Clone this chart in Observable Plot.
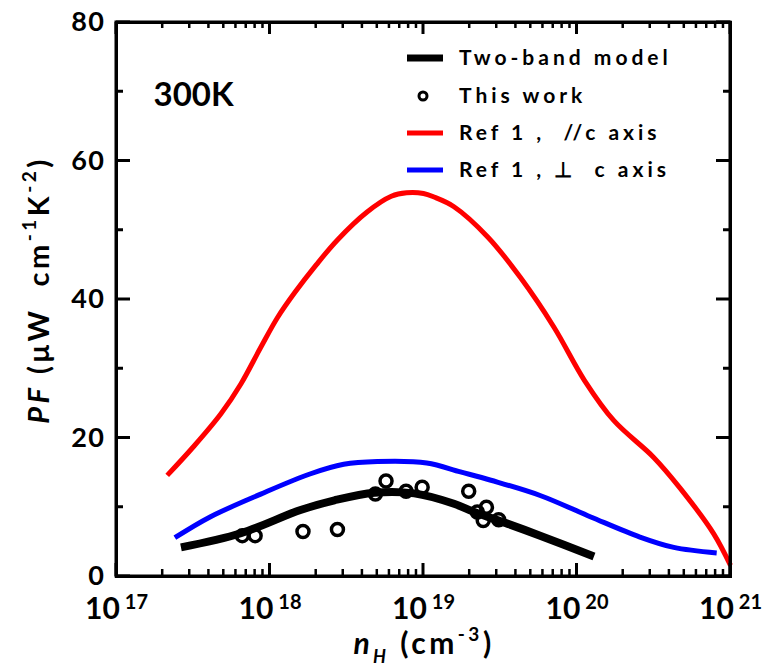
<!DOCTYPE html>
<html>
<head>
<meta charset="utf-8">
<script src="https://cdn.jsdelivr.net/npm/d3@7"></script>
<script src="https://cdn.jsdelivr.net/npm/@observablehq/plot@0.6"></script>
<style>
  html, body { margin: 0; padding: 0; background: white; }
</style>
</head>
<body>
<div id="chart"></div>
<script>
// Ref 1, //c axis (red)
const redN  = [2.14e17, 3.16e17, 4.79e17, 6.46e17, 8.71e17, 1.12e18, 1.45e18, 2.0e18, 2.75e18, 4.27e18, 6.17e18, 7.76e18, 1.0e19, 1.17e19, 1.58e19, 2.63e19, 4.27e19, 7.08e19, 1.12e20, 1.74e20, 3.16e20, 4.68e20, 7.76e20, 1.0e21];
const redPF = [14.6, 18.7, 23.5, 27.8, 33.1, 37.4, 41.0, 45.0, 48.6, 52.6, 54.9, 55.4, 55.3, 54.8, 53.4, 49.0, 43.2, 36.0, 28.3, 22.5, 17.2, 12.8, 6.2, 1.6];
// Ref 1, ⊥ c axis (blue)
const blueN  = [2.4e17, 4.07e17, 8.71e17, 1.82e18, 3.02e18, 5.01e18, 1.05e19, 1.74e19, 2.75e19, 5.75e19, 1.23e20, 2.57e20, 4.27e20, 8.13e20];
const bluePF = [5.6, 8.6, 11.9, 14.8, 16.2, 16.6, 16.4, 15.1, 13.9, 11.7, 8.6, 5.7, 4.2, 3.4];
// Two-band model (black)
const modelN  = [2.63e17, 6.46e17, 1.58e18, 2.63e18, 4.79e18, 8.71e18, 1.58e19, 2.14e19, 3.55e19, 5.75e19, 1.29e20];
const modelPF = [4.2, 6.25, 9.6, 11.0, 12.1, 12.0, 10.5, 9.3, 7.6, 5.9, 2.9];
// This work (open circles)
const workN  = [6.6e17, 8.0e17, 1.64e18, 2.75e18, 4.86e18, 5.7e18, 7.7e18, 9.8e18, 1.97e19, 2.24e19, 2.57e19, 2.45e19, 3.09e19];
const workPF = [5.9, 5.9, 6.5, 6.8, 11.9, 13.8, 12.3, 12.9, 12.3, 9.3, 10.0, 8.1, 8.2];

const xMajor = [1e17, 1e18, 1e19, 1e20, 1e21];
const yMajor = [0, 20, 40, 60, 80];
const yMinor = [10, 30, 50, 70];
const legendLabels = ["Two-band model", "This work", "Ref 1 ,  //c axis", "Ref 1 , \u22A5  c axis"];
const legendColors = ["black", "black", "red", "blue"];
const tempLabel = ["300K"];

const toRows = (ns, vs) => ns.map((n, i) => ({n, pf: vs[i]}));
const red = toRows(redN, redPF);
const blue = toRows(blueN, bluePF);
const model = toRows(modelN, modelPF);
const work = toRows(workN, workPF);

const xMinor = [];
for (let k = 0; k < xMajor.length - 1; k++) for (let m = 2; m <= 9; m++) xMinor.push(m * xMajor[k]);

const FONT = "Lato, 'Open Sans', sans-serif";
const W = 764, H = 668, ML = 116, MR = 34, MT = 22, MB = 92;

const svg = Plot.plot({
  width: W,
  height: H,
  marginLeft: ML,
  marginRight: MR,
  marginTop: MT,
  marginBottom: MB,
  style: {fontFamily: FONT, fontWeight: "bold", background: "white"},
  x: {type: "log", domain: [1e17, 1e21]},
  y: {domain: [0, 80]},
  marks: [
    Plot.line(red, {x: "n", y: "pf", stroke: "#ff0000", strokeWidth: 5, curve: "catmull-rom", strokeLinecap: "butt"}),
    Plot.line(blue, {x: "n", y: "pf", stroke: "#0000ff", strokeWidth: 5, curve: "catmull-rom", strokeLinecap: "butt"}),
    Plot.line(model, {x: "n", y: "pf", stroke: "black", strokeWidth: 8, curve: "catmull-rom", strokeLinecap: "butt"}),
    Plot.dot(work, {x: "n", y: "pf", r: 6, stroke: "black", strokeWidth: 3.5, fill: "none"}),
    Plot.text(tempLabel, {text: d => d, frameAnchor: "top-left", textAnchor: "start", lineAnchor: "top", dx: 37, dy: 60, fontSize: 33, fontWeight: "bold", fill: "black"}),
    Plot.axisX(xMajor, {anchor: "bottom", tickSize: 0, tickPadding: 21, fontSize: 30, tickFormat: d => String(Math.round(Math.log10(d))), label: null}),
    Plot.axisY(yMajor, {anchor: "left", tickSize: 0, tickPadding: 11, fontSize: 27, label: null}),
    Plot.frame({strokeWidth: 3, stroke: "black"})
  ]
});

const s = d3.select(svg);

// scales from the plot (fallback to equivalent d3 scales if unavailable)
let fx, fy;
try {
  const xs = svg.scale("x"), ys = svg.scale("y");
  fx = v => xs.apply(v); fy = v => ys.apply(v);
  if (!isFinite(fx(1e18)) || !isFinite(fy(40))) throw 0;
} catch (e) {
  const dx = d3.scaleLog().domain([1e17, 1e21]).range([ML, W - MR]);
  const dy = d3.scaleLinear().domain([0, 80]).range([H - MB, MT]);
  fx = dx; fy = dy;
}
const xL = fx(1e17), xR = fx(1e21), yB = fy(0), yT = fy(80);

// frame + inward ticks, stroke set on every element
const tg = s.append("g");
const seg = (x1, y1, x2, y2, w) => tg.append("path")
  .attr("d", `M${x1},${y1}L${x2},${y2}`)
  .attr("stroke", "black").attr("stroke-width", w).attr("fill", "none");
tg.append("rect").attr("x", xL).attr("y", yT).attr("width", xR - xL).attr("height", yB - yT)
  .attr("fill", "none").attr("stroke", "black").attr("stroke-width", 3);
xMajor.forEach(v => { const x = fx(v); seg(x, yB, x, yB - 13, 3); seg(x, yT, x, yT + 12, 3); });
xMinor.forEach(v => { const x = fx(v); seg(x, yB, x, yB - 7, 2.5); seg(x, yT, x, yT + 6, 2.5); });
yMajor.forEach(v => { const y = fy(v); seg(xL, y, xL + 14, y, 3); seg(xR, y, xR - 14, y, 3); });
yMinor.forEach(v => { const y = fy(v); seg(xL, y, xL + 7, y, 3); seg(xR, y, xR - 7, y, 3); });

// x tick labels as 10^k
s.selectAll('g[aria-label="x-axis tick label"] text').each(function() {
  const t = d3.select(this);
  const e = t.text();
  if (!e) return;
  t.text(null);
  t.append("tspan").text("10");
  t.append("tspan").attr("dy", "-0.5em").attr("font-size", 20).attr("dx", 5).text(e);
});
s.selectAll('g[aria-label="y-axis tick label"] text').attr("letter-spacing", 1.5);

// y axis title
const yt = s.append("text")
  .attr("transform", "translate(49,290) rotate(-90)")
  .attr("text-anchor", "middle")
  .attr("font-family", FONT).attr("font-weight", "bold").attr("font-size", 29)
  .attr("letter-spacing", 3.5).attr("fill", "black");
yt.append("tspan").attr("font-style", "italic").text("PF");
yt.append("tspan").text("\u00a0(\u03bcW\u00a0 cm");
yt.append("tspan").attr("dy", -13).attr("font-size", 19).text("-1");
yt.append("tspan").attr("dy", 13).text("K");
yt.append("tspan").attr("dy", -13).attr("font-size", 19).text("-2");
yt.append("tspan").attr("dy", 13).text(")");

// x axis title
const xt = s.append("text")
  .attr("x", 424).attr("y", 654)
  .attr("text-anchor", "middle")
  .attr("font-family", FONT).attr("font-weight", "bold").attr("font-size", 30)
  .attr("letter-spacing", 3.5).attr("fill", "black");
xt.append("tspan").attr("font-style", "italic").text("n");
xt.append("tspan").attr("font-style", "italic").attr("font-size", 18).attr("dy", 9).text("H");
xt.append("tspan").attr("dy", -9).text("\u00a0(cm");
xt.append("tspan").attr("dy", -13).attr("font-size", 19).text("-3");
xt.append("tspan").attr("dy", 13).text(")");

// legend
const lg = s.append("g").attr("font-family", FONT).attr("font-weight", "bold").attr("font-size", 21)
  .attr("letter-spacing", 4).attr("text-anchor", "start");
const rowY = [58, 96, 133, 170];
legendLabels.forEach((lab, i) => {
  const y = rowY[i];
  if (i === 1) {
    lg.append("circle").attr("cx", 423).attr("cy", y).attr("r", 4).attr("fill", "none").attr("stroke", legendColors[i]).attr("stroke-width", 3);
  } else {
    lg.append("line").attr("x1", 407).attr("x2", 443).attr("y1", y).attr("y2", y)
      .attr("stroke", legendColors[i]).attr("stroke-width", i === 0 ? 7 : 5);
  }
  lg.append("text").attr("x", 459).attr("y", y + 7).attr("text-anchor", "start").attr("fill", "black").style("white-space", "pre").text(lab);
});

document.getElementById("chart").appendChild(svg);
</script>
</body>
</html>
